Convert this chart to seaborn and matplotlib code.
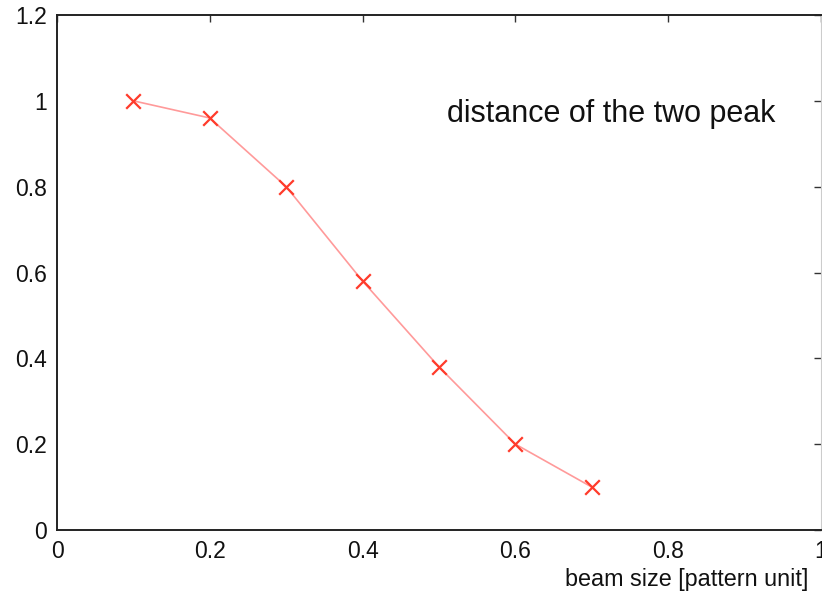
import matplotlib
matplotlib.use("Agg")
import matplotlib.pyplot as plt
import seaborn as sns
import pandas as pd

# --- Data ---
beam_size = [0.1, 0.2, 0.3, 0.4, 0.5, 0.6, 0.7]
peak_distance = [1.0, 0.96, 0.8, 0.58, 0.38, 0.2, 0.1]
x_ticks = [0, 0.2, 0.4, 0.6, 0.8, 1]
x_tick_labels = ["0", "0.2", "0.4", "0.6", "0.8", "1"]
y_ticks = [0, 0.2, 0.4, 0.6, 0.8, 1, 1.2]
y_tick_labels = ["0", "0.2", "0.4", "0.6", "0.8", "1", "1.2"]

df = pd.DataFrame({"beam_size": beam_size, "distance": peak_distance})

sns.set_style("white")
plt.rcParams["font.family"] = ["Liberation Sans", "DejaVu Sans"]

fig = plt.figure(figsize=(8.22, 5.94), dpi=100)
ax = fig.add_axes([57 / 822, 1 - 530 / 594, 764 / 822, 515 / 594])

# connecting line (light red) and markers (red x)
sns.lineplot(data=df, x="beam_size", y="distance", ax=ax,
             color="#ff9a9a", linewidth=1.2, marker=None)
sns.scatterplot(data=df, x="beam_size", y="distance", ax=ax,
                marker="x", s=110, color="#ff3b2b", linewidth=1.6, zorder=3)

ax.set_xlim(0, 1)
ax.set_ylim(0, 1.2)
ax.set_xticks(x_ticks)
ax.set_xticklabels(x_tick_labels)
ax.set_yticks(y_ticks)
ax.set_yticklabels(y_tick_labels)
ax.tick_params(direction="in", length=5, width=1, color="#333333",
               top=True, right=True, labelsize=16.5, pad=7, labelcolor="#111111")

for side in ["left", "bottom", "top"]:
    ax.spines[side].set_color("#222222")
    ax.spines[side].set_linewidth(1.4)
ax.spines["right"].set_color("#cccccc")
ax.spines["right"].set_linewidth(0.8)

ax.set_xlabel("")
ax.set_ylabel("")
ax.text(0.51, 0.792, "distance of the two peak", transform=ax.transAxes,
        fontsize=22, color="#111111", ha="left", va="baseline")
fig.text(565 / 822, 1 - 586 / 594, "beam size [pattern unit]",
         fontsize=16.8, color="#111111", ha="left", va="baseline")

fig.savefig("out.png", dpi=100)
